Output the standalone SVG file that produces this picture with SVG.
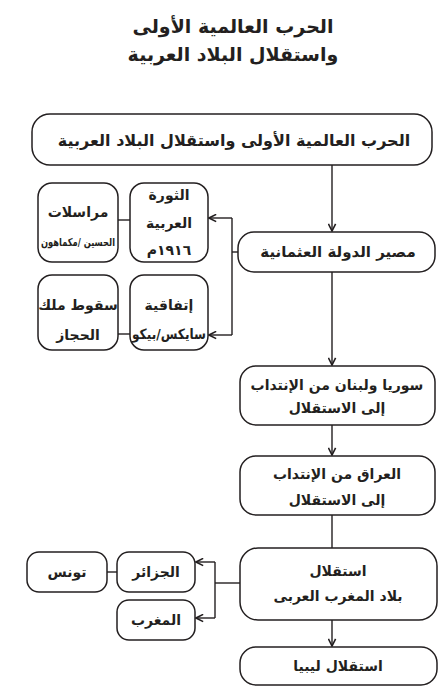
<svg xmlns="http://www.w3.org/2000/svg" width="445" height="692" viewBox="0 0 445 692">
<style>
.box{fill:#fff;stroke:#231f20;stroke-width:1.5}
.ln{fill:none;stroke:#231f20;stroke-width:1.4}
text{font-family:"DejaVu Sans",sans-serif;font-weight:bold;fill:#231f20;text-anchor:middle;direction:rtl}
.t{font-size:19px}
.b{font-size:16px}
.m{font-size:14px}
.s{font-size:11px}
</style>
<defs>
<marker id="ar" viewBox="0 0 10 10" refX="9" refY="5" markerWidth="9" markerHeight="9" markerUnits="userSpaceOnUse" orient="auto">
<path d="M1,1 L9,5 L1,9" fill="none" stroke="#231f20" stroke-width="1.8"/>
</marker>
</defs>
<rect width="445" height="692" fill="#fff"/>
<g id="title">
<text class="t" x="233" y="33">الحرب العالمية الأولى</text>
<text class="t" x="233" y="61">واستقلال البلاد العربية</text>
</g>
<g id="connectors">
<path class="ln" d="M332,165 V231" marker-end="url(#ar)"/>
<path class="ln" d="M238,252 H232"/>
<path class="ln" d="M232,218 V335"/>
<path class="ln" d="M232,218 H209" marker-end="url(#ar)"/>
<path class="ln" d="M232,335 H209" marker-end="url(#ar)"/>
<path class="ln" d="M118,220 H130"/>
<path class="ln" d="M118,334 H130"/>
<path class="ln" d="M332,272 V365" marker-end="url(#ar)"/>
<path class="ln" d="M332,425 V455" marker-end="url(#ar)"/>
<path class="ln" d="M332,515 V548"/>
<path class="ln" d="M240,583 H215"/>
<path class="ln" d="M215,562 V618"/>
<path class="ln" d="M215,562 H196" marker-end="url(#ar)"/>
<path class="ln" d="M215,618 H196" marker-end="url(#ar)"/>
<path class="ln" d="M107,572 H117"/>
<path class="ln" d="M332,620 V646" marker-end="url(#ar)"/>
</g>
<g id="n-top">
<rect class="box" x="32" y="114" width="400" height="51" rx="18"/>
<text class="b" x="234" y="146">الحرب العالمية الأولى واستقلال البلاد العربية</text>
</g>
<g id="n-ottoman">
<rect class="box" x="238" y="232" width="197" height="40" rx="16"/>
<text class="m" x="338" y="257" style="font-size:15px">مصير الدولة العثمانية</text>
</g>
<g id="n-revolt">
<rect class="box" x="130" y="183" width="78" height="79" rx="14"/>
<text class="m" x="169" y="200">الثورة</text>
<text class="m" x="169" y="228">العربية</text>
<text class="m" x="169" y="255">١٩١٦م</text>
</g>
<g id="n-corr">
<rect class="box" x="38" y="183" width="80" height="79" rx="14"/>
<text class="m" x="78" y="217">مراسلات</text>
<text class="s" x="78" y="246" textLength="74" lengthAdjust="spacingAndGlyphs">الحسين /مكماهون</text>
</g>
<g id="n-sykes">
<rect class="box" x="130" y="275" width="78" height="75" rx="14"/>
<text class="m" x="169" y="310">إتفاقية</text>
<text class="m" x="169" y="339" textLength="74" lengthAdjust="spacingAndGlyphs">سايكس/بيكو</text>
</g>
<g id="n-hejaz">
<rect class="box" x="38" y="275" width="80" height="75" rx="14"/>
<text class="m" x="78" y="310">سقوط ملك</text>
<text class="m" x="78" y="340">الحجاز</text>
</g>
<g id="n-syria">
<rect class="box" x="240" y="366" width="195" height="59" rx="16"/>
<text class="m" x="337" y="390">سوريا ولبنان من الإنتداب</text>
<text class="m" x="337" y="413">إلى الاستقلال</text>
</g>
<g id="n-iraq">
<rect class="box" x="240" y="456" width="195" height="59" rx="16"/>
<text class="m" x="337" y="479">العراق من الإنتداب</text>
<text class="m" x="337" y="505">إلى الاستقلال</text>
</g>
<g id="n-maghreb">
<rect class="box" x="240" y="548" width="197" height="72" rx="18"/>
<text class="m" x="338" y="576">استقلال</text>
<text class="m" x="338" y="601">بلاد المغرب العربى</text>
</g>
<g id="n-libya">
<rect class="box" x="240" y="647" width="197" height="38" rx="16"/>
<text class="m" x="338" y="671">استقلال ليبيا</text>
</g>
<g id="n-algeria">
<rect class="box" x="117" y="552" width="78" height="40" rx="12"/>
<text class="m" x="156" y="577">الجزائر</text>
</g>
<g id="n-morocco">
<rect class="box" x="117" y="600" width="78" height="40" rx="12"/>
<text class="m" x="156" y="625">المغرب</text>
</g>
<g id="n-tunisia">
<rect class="box" x="27" y="552" width="80" height="40" rx="12"/>
<text class="m" x="67" y="577">تونس</text>
</g>
</svg>
